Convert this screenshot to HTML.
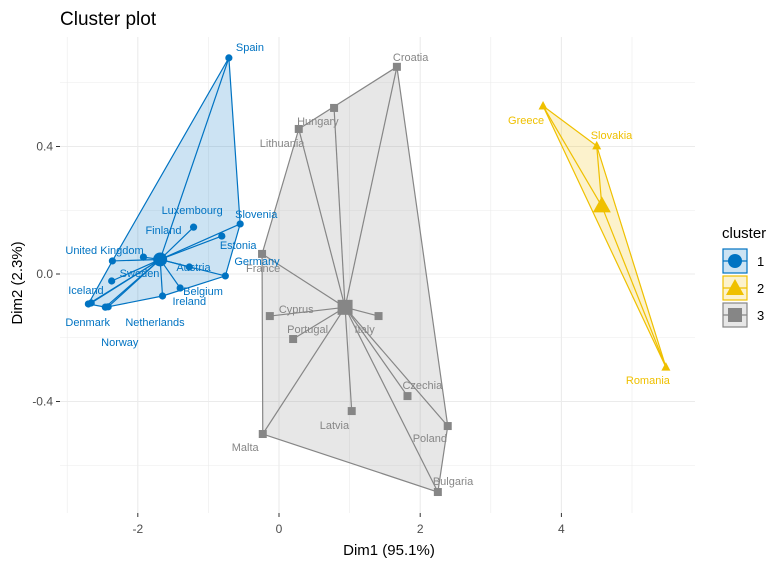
<!DOCTYPE html>
<html><head><meta charset="utf-8"><style>
body{margin:0;background:#fff;}
svg text{font-family:"Liberation Sans",Arial,sans-serif;}
</style></head><body>
<svg id="chart" width="778" height="564" viewBox="0 0 778 564" xmlns="http://www.w3.org/2000/svg">
<text x="60" y="25" font-size="19" fill="#000">Cluster plot</text>
<g id="grid"></g><g id="hulls"></g><g id="spokes"></g><g id="marks"></g><g id="labels"></g><g id="axes"></g>
<text x="389" y="555" font-size="15" text-anchor="middle" fill="#000">Dim1 (95.1%)</text>
<text transform="translate(22,283) rotate(-90)" font-size="15" text-anchor="middle" fill="#000">Dim2 (2.3%)</text>
<g id="legend"></g>
</svg>
<script>
const names=["Spain","Slovenia","Luxembourg","Estonia","United Kingdom","Finland","Austria","Sweden","Germany","Belgium","Ireland","Iceland","Denmark","Norway","Netherlands","Croatia","Hungary","Lithuania","France","Cyprus","Portugal","Italy","Latvia","Czechia","Poland","Malta","Bulgaria","Greece","Slovakia","Romania"];
const dim1=[-0.71,-0.55,-1.21,-0.81,-2.36,-1.92,-1.27,-2.37,-0.76,-1.40,-1.65,-2.66,-2.70,-2.42,-2.46,1.67,0.78,0.28,-0.24,-0.13,0.20,1.41,1.03,1.82,2.39,-0.23,2.25,3.74,4.50,5.48];
const dim2=[0.678,0.157,0.147,0.119,0.041,0.053,0.022,-0.022,-0.006,-0.044,-0.069,-0.091,-0.094,-0.103,-0.104,0.650,0.521,0.455,0.063,-0.132,-0.204,-0.132,-0.430,-0.383,-0.477,-0.502,-0.684,0.527,0.402,-0.292];
const cluster=[1,1,1,1,1,1,1,1,1,1,1,1,1,1,1,3,3,3,3,3,3,3,3,3,3,3,3,2,2,2];
const xTicks=[-2,0,2,4];
const yTicks=[0.4,0.0,-0.4];
const yTickLabels=["0.4","0.0","-0.4"];
const labelOff=[[7,-11],[-5,-10],[-32,-17],[-2,9],[-47,-11],[2,-27],[-13,0],[8,-8],[9,-15],[3,3],[10,5],[-23,-13],[-23,18],[-7,35],[20,15],[-4,-10],[-37,13],[-39,14],[-16,14],[9,-7],[-6,-10],[-24,13],[-32,14],[-5,-11],[-35,12],[-31,13],[-5,-11],[-35,14],[-6,-11],[-40,13]];
const colors={1:"#0073C2",2:"#EFC000",3:"#868686"};
const fills={1:"rgba(0,115,194,0.2)",2:"rgba(239,192,0,0.2)",3:"rgba(134,134,134,0.2)"};
const X0=60,X1=695,Y0=37,Y1=513;
const sx=v=>279+v*70.6, sy=v=>274-v*318.75;
const NS="http://www.w3.org/2000/svg";
function mk(tag,attrs,parent){const e=document.createElementNS(NS,tag);for(const k in attrs)e.setAttribute(k,attrs[k]);document.getElementById(parent).appendChild(e);return e;}
mk("rect",{x:X0,y:Y0,width:X1-X0,height:Y1-Y0,fill:"#fff"},"grid");
for(let v=-3;v<=5;v++){const x=sx(v);const e=mk("line",{x1:x,x2:x,y1:Y0,y2:Y1,stroke:"#ebebeb","stroke-width":v%2===0?1.1:0.6},"grid");}
for(let v=-0.6;v<=0.61;v+=0.2){const y=sy(v);const e=mk("line",{x1:X0,x2:X1,y1:y,y2:y,stroke:"#ebebeb","stroke-width":Math.abs(Math.round(v*10))%4===0?1.1:0.6},"grid");}
xTicks.forEach(v=>{const x=sx(v);mk("line",{x1:x,x2:x,y1:Y1,y2:Y1+4,stroke:"#333"},"axes");const t=mk("text",{x:x,y:Y1+20,"font-size":12,"text-anchor":"middle",fill:"#4d4d4d"},"axes");t.textContent=v;});
yTicks.forEach((v,i)=>{const y=sy(v);mk("line",{x1:X0-4,x2:X0,y1:y,y2:y,stroke:"#333"},"axes");const t=mk("text",{x:X0-7,y:y+4,"font-size":12,"text-anchor":"end",fill:"#4d4d4d"},"axes");t.textContent=yTickLabels[i];});
function hull(pts){pts=pts.slice().sort((a,b)=>a[0]-b[0]||a[1]-b[1]);const cr=(o,a,b)=>(a[0]-o[0])*(b[1]-o[1])-(a[1]-o[1])*(b[0]-o[0]);const lo=[],up=[];for(const p of pts){while(lo.length>=2&&cr(lo[lo.length-2],lo[lo.length-1],p)<=0)lo.pop();lo.push(p);}for(const p of pts.slice().reverse()){while(up.length>=2&&cr(up[up.length-2],up[up.length-1],p)<=0)up.pop();up.push(p);}return lo.slice(0,-1).concat(up.slice(0,-1));}
[1,2,3].forEach(c=>{
 const idx=[];cluster.forEach((k,i)=>{if(k===c)idx.push(i);});
 const pts=idx.map(i=>[sx(dim1[i]),sy(dim2[i])]);
 const cx=pts.reduce((s,p)=>s+p[0],0)/pts.length, cy=pts.reduce((s,p)=>s+p[1],0)/pts.length;
 const h=hull(pts);
 const poly=mk("polygon",{points:h.map(p=>p.join(",")).join(" "),fill:fills[c],stroke:colors[c],"stroke-width":1.2},"hulls");
 
 
 idx.forEach((i,j)=>{
  const p=pts[j];
  const s=mk("line",{x1:cx,y1:cy,x2:p[0],y2:p[1],stroke:colors[c],"stroke-width":1.2},"spokes");
  
  
  let m;
  if(c===1)m=mk("circle",{cx:p[0],cy:p[1],r:3.6,fill:colors[c]},"marks");
  else if(c===3)m=mk("rect",{x:p[0]-4,y:p[1]-4,width:8,height:8,fill:colors[c]},"marks");
  else m=mk("polygon",{points:`${p[0]},${p[1]-5} ${p[0]-4.5},${p[1]+3.5} ${p[0]+4.5},${p[1]+3.5}`,fill:colors[c]},"marks");
  
  
  const t=mk("text",{x:p[0]+labelOff[i][0],y:p[1]+labelOff[i][1]+4,"font-size":11,fill:colors[c]},"labels");
  t.textContent=names[i];
  
  
 });
 let m;
 if(c===1)m=mk("circle",{cx:cx,cy:cy,r:7,fill:colors[c]},"marks");
 else if(c===3)m=mk("rect",{x:cx-7.5,y:cy-7.5,width:15,height:15,fill:colors[c]},"marks");
 else m=mk("polygon",{points:`${cx},${cy-10} ${cx-9},${cy+6} ${cx+9},${cy+6}`,fill:colors[c]},"marks");
 
 
});
const lg=[1,2,3];
mk("text",{x:722,y:238,"font-size":15,fill:"#000"},"legend").textContent="cluster";
lg.forEach((c,i)=>{
 const y=249+i*27;
 const r=mk("rect",{x:723,y:y,width:24,height:24,fill:fills[c],stroke:colors[c],"stroke-width":1.2},"legend");
 
 
 mk("line",{x1:723,x2:747,y1:y+12,y2:y+12,stroke:colors[c],"stroke-width":1.2},"legend");
 if(c===1)mk("circle",{cx:735,cy:y+12,r:7,fill:colors[c]},"legend");
 else if(c===2)mk("polygon",{points:`735,${y+3} 726,${y+19} 744,${y+19}`,fill:colors[c]},"legend");
 else mk("rect",{x:728,y:y+5,width:14,height:14,fill:colors[c]},"legend");
 const t=mk("text",{x:757,y:y+17,"font-size":13,fill:"#000"},"legend");
 t.textContent=c;
 
 
});
</script>
</body></html>
